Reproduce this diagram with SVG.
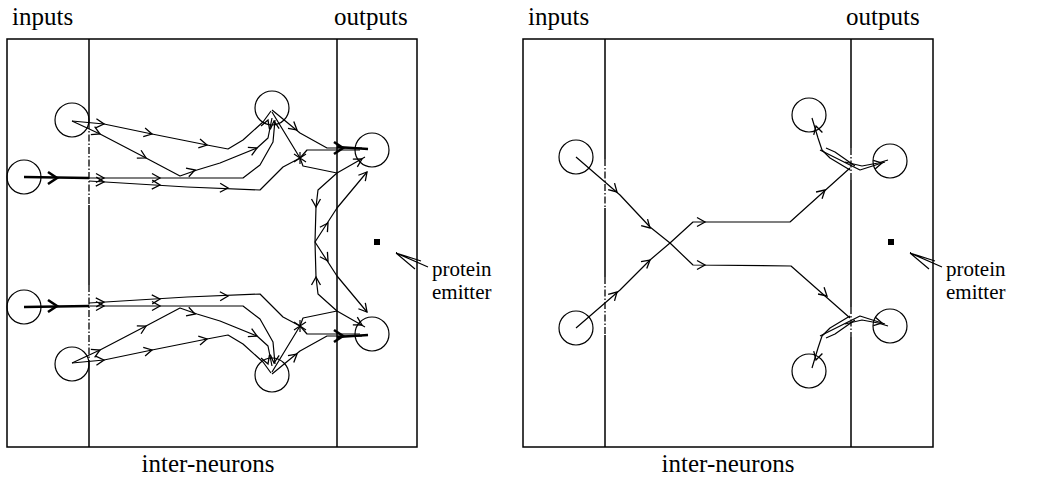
<svg xmlns="http://www.w3.org/2000/svg" xmlns:xlink="http://www.w3.org/1999/xlink" width="1041" height="479" viewBox="0 0 1041 479">
<style>
.frame{fill:none;stroke:#000;stroke-width:1.5}
.dash{fill:none;stroke:#000;stroke-width:1.3;stroke-dasharray:7,2,1.5,2}
.n{fill:none;stroke:#000;stroke-width:1.2}
.c{fill:none;stroke:#000;stroke-width:1.2;stroke-linejoin:round}
.thick{fill:none;stroke:#000;stroke-width:2.6}
.lbl{font-family:"Liberation Serif","Times New Roman",serif;font-size:25px;fill:#000}
.sm{font-family:"Liberation Serif","Times New Roman",serif;font-size:21px;fill:#000}
</style>
<defs>
<path id="a" d="M-8,-4.5 L0,0 L-8,4.5" fill="none" stroke="#000" stroke-width="1.3"/>
<path id="at" d="M-9,-6 L0,0 L-9,6" fill="none" stroke="#000" stroke-width="2.6"/>
</defs>
<rect width="1041" height="479" fill="#fff"/>

<g id="left-panel">
<rect class="frame" x="7" y="39" width="410" height="408"/>
<path class="frame" d="M89,39 V122 M89,205 V285 M89,360 V447 M337,39 V447"/>
<path class="dash" d="M89,122 V205 M89,285 V360"/>
<text class="lbl" x="12" y="25">inputs</text>
<text class="lbl" x="334" y="25">outputs</text>
<text class="lbl" x="208" y="472" text-anchor="middle">inter-neurons</text>
<text class="sm" x="432" y="276">protein</text>
<text class="sm" x="432" y="299">emitter</text>
</g>

<g id="right-panel">
<rect class="frame" x="523" y="39" width="410" height="408"/>
<path class="frame" d="M605,39 V159 M605,208 V277 M605,335 V447 M851,39 V148 M851,180 V307 M851,337 V447"/>
<path class="dash" d="M605,159 V208 M605,277 V335 M851,148 V180 M851,307 V337"/>
<text class="lbl" x="528" y="25">inputs</text>
<text class="lbl" x="846" y="25">outputs</text>
<text class="lbl" x="728" y="472" text-anchor="middle">inter-neurons</text>
<text class="sm" x="946" y="276">protein</text>
<text class="sm" x="946" y="299">emitter</text>
</g>

<g id="L-in1"><circle class="n" cx="72" cy="120" r="17"/></g>
<g id="L-in2"><circle class="n" cx="24" cy="177" r="17"/></g>
<g id="L-in3"><circle class="n" cx="24" cy="307" r="17"/></g>
<g id="L-in4"><circle class="n" cx="72" cy="364" r="17"/></g>
<g id="L-mid1"><circle class="n" cx="272" cy="108" r="17"/></g>
<g id="L-mid2"><circle class="n" cx="272" cy="375" r="17"/></g>
<g id="L-out1"><circle class="n" cx="372" cy="150" r="17"/></g>
<g id="L-out2"><circle class="n" cx="372" cy="334" r="17"/></g>
<g id="L-emitter"><rect x="374" y="239" width="6" height="6" fill="#000"/></g>

<g id="R-in1"><circle class="n" cx="576" cy="157" r="17"/></g>
<g id="R-in2"><circle class="n" cx="576" cy="328" r="17"/></g>
<g id="R-mid1"><circle class="n" cx="809" cy="115" r="17"/></g>
<g id="R-mid2"><circle class="n" cx="809" cy="371" r="17"/></g>
<g id="R-out1"><circle class="n" cx="890" cy="161" r="17"/></g>
<g id="R-out2"><circle class="n" cx="890" cy="326" r="17"/></g>
<g id="R-emitter"><rect x="888" y="239" width="6" height="6" fill="#000"/></g>

<g id="connectors">
<!-- left top half -->
<path class="c" d="M72,121 L104,124 L152,134 L207,145 L228,149 L243,140 L263,122 L271,111"/>
<path class="c" d="M72,121 L100,134 L146,158 L180,176 L197,170 L220,163 L257,148 L268,138 L272,118"/>
<path class="thick" d="M24,177 L89,178"/>
<path class="c" d="M89,178 L243,178 L260,165 L273,142 L275,120"/>
<path class="c" d="M89,181 L187,187 L260,190 L283,167 L300,158"/>
<path class="c" d="M272,110 L300,133 L327,148 L362,148"/>
<path class="thick" d="M337,147 L368,149"/>
<path class="c" d="M272,112 L300,158 L307,150 L337,150 L360,150"/>
<path class="c" d="M300,158 L303,166 L337,173 L365,157"/>
<path class="c" d="M337,173 L318,190 L316,207 L315,242"/>
<path class="c" d="M315,242 L337,208 L367,172"/>
<path class="c" d="M294,154 L306,162 M294,162 L306,154 M300,152 L300,164"/>
<use href="#a" transform="translate(104,124) rotate(5)"/>
<use href="#a" transform="translate(152,134) rotate(12)"/>
<use href="#a" transform="translate(207,145) rotate(11)"/>
<use href="#a" transform="translate(100,134) rotate(25)"/>
<use href="#a" transform="translate(146,158) rotate(28)"/>
<use href="#a" transform="translate(195,170) rotate(-18)"/>
<use href="#a" transform="translate(257,148) rotate(-25)"/>
<use href="#at" transform="translate(57,178)"/>
<use href="#a" transform="translate(104,178)"/>
<use href="#a" transform="translate(160,178)"/>
<use href="#a" transform="translate(104,182) rotate(3)"/>
<use href="#a" transform="translate(160,185) rotate(3)"/>
<use href="#a" transform="translate(228,188) rotate(2)"/>
<use href="#a" transform="translate(268,120) rotate(-70)"/>
<use href="#a" transform="translate(274,121) rotate(-95)"/>
<use href="#a" transform="translate(297,130) rotate(40)"/>
<use href="#at" transform="translate(343,148)"/>
<use href="#a" transform="translate(362,159) rotate(-30)"/>
<use href="#a" transform="translate(316,207) rotate(90)"/>
<use href="#a" transform="translate(328,223) rotate(-57)"/>
<use href="#a" transform="translate(367,172) rotate(-50)"/>

<!-- left bottom half -->
<path class="c" d="M72,363 L104,360 L152,350 L207,339 L228,335 L243,344 L263,362 L271,373"/>
<path class="c" d="M72,363 L100,350 L146,326 L180,308 L197,314 L220,321 L257,336 L268,346 L272,366"/>
<path class="thick" d="M24,307 L89,306"/>
<path class="c" d="M89,306 L243,306 L260,319 L273,342 L275,364"/>
<path class="c" d="M89,303 L187,297 L260,294 L283,317 L300,326"/>
<path class="c" d="M272,374 L300,351 L327,336 L362,336"/>
<path class="thick" d="M337,337 L368,335"/>
<path class="c" d="M272,372 L300,326 L307,334 L337,334 L360,334"/>
<path class="c" d="M300,326 L303,318 L337,311 L365,327"/>
<path class="c" d="M337,311 L318,294 L316,277 L315,242"/>
<path class="c" d="M315,242 L337,276 L367,312"/>
<path class="c" d="M294,330 L306,322 M294,322 L306,330 M300,332 L300,320"/>
<use href="#a" transform="translate(104,360) rotate(-5)"/>
<use href="#a" transform="translate(152,350) rotate(-12)"/>
<use href="#a" transform="translate(207,339) rotate(-11)"/>
<use href="#a" transform="translate(100,350) rotate(-25)"/>
<use href="#a" transform="translate(146,326) rotate(-28)"/>
<use href="#a" transform="translate(195,314) rotate(18)"/>
<use href="#a" transform="translate(257,336) rotate(25)"/>
<use href="#at" transform="translate(57,306)"/>
<use href="#a" transform="translate(104,306)"/>
<use href="#a" transform="translate(160,306)"/>
<use href="#a" transform="translate(104,302) rotate(-3)"/>
<use href="#a" transform="translate(160,299) rotate(-3)"/>
<use href="#a" transform="translate(228,296) rotate(-2)"/>
<use href="#a" transform="translate(268,364) rotate(70)"/>
<use href="#a" transform="translate(274,363) rotate(95)"/>
<use href="#a" transform="translate(297,354) rotate(-40)"/>
<use href="#at" transform="translate(343,336)"/>
<use href="#a" transform="translate(362,325) rotate(30)"/>
<use href="#a" transform="translate(316,277) rotate(-90)"/>
<use href="#a" transform="translate(328,261) rotate(57)"/>
<use href="#a" transform="translate(367,312) rotate(50)"/>

<!-- left emitter pointer -->
<path class="c" d="M396,253 L428,267 M396,253 L421,261 M396,253 L415,269"/>

<!-- right panel -->
<path class="c" d="M576,157 L620,195 L650,227 L670,243 L693,265 L791,266 L850,318"/>
<path class="c" d="M576,328 L620,290 L650,260 L670,243 L693,222 L790,222 L850,168"/>
<use href="#a" transform="translate(617,192) rotate(45)"/>
<use href="#a" transform="translate(650,228) rotate(45)"/>
<use href="#a" transform="translate(705,265)"/>
<use href="#a" transform="translate(827,296) rotate(42)"/>
<use href="#a" transform="translate(617,292) rotate(-45)"/>
<use href="#a" transform="translate(650,260) rotate(-40)"/>
<use href="#a" transform="translate(705,222)"/>
<use href="#a" transform="translate(825,190) rotate(-42)"/>
<!-- top-right scribbles -->
<path class="c" d="M850,170 L830,158 L822,150 L818,138 L812,118"/>
<path class="c" d="M855,166 L835,152 L826,148"/>
<path class="c" d="M820,150 L840,160 L860,170 L885,162"/>
<path class="c" d="M845,162 L862,166 L878,163 L888,160"/>
<use href="#a" transform="translate(816,126) rotate(-105)"/>
<use href="#a" transform="translate(882,163) rotate(-12)"/>
<!-- bottom-right scribbles -->
<path class="c" d="M850,316 L830,328 L822,336 L818,348 L812,368"/>
<path class="c" d="M855,320 L835,334 L826,338"/>
<path class="c" d="M820,336 L840,326 L860,316 L885,324"/>
<path class="c" d="M845,324 L862,320 L878,323 L888,326"/>
<use href="#a" transform="translate(816,360) rotate(105)"/>
<use href="#a" transform="translate(882,323) rotate(12)"/>
<!-- right emitter pointer -->
<path class="c" d="M910,253 L942,267 M910,253 L935,261 M910,253 L929,269"/>
</g>
</svg>
